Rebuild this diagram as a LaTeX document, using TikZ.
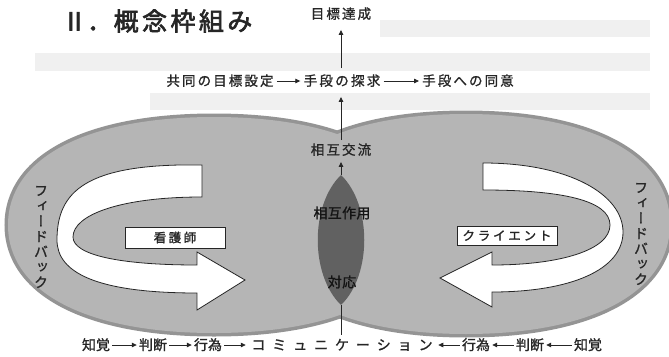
\documentclass[tikz,border=0pt]{standalone}
\usepackage{fontspec}
\usetikzlibrary{arrows.meta}
\newfontfamily\jptitle[FakeBold=2.5]{Noto Sans CJK JP}
\newfontfamily\jpk[FakeBold=1.2]{Noto Sans CJK JP}
\newfontfamily\jpv[FakeBold=1.2,RawFeature={+vert}]{Noto Sans CJK JP}
\newcommand\spc[2]{\def\spcw{#1}\spcloop#2\relax}
\def\spcloop#1{\ifx#1\relax\else\makebox[\spcw][c]{#1}\expandafter\spcloop\fi}
\colorlet{ink}{black!85}
\tikzset{
  lbl/.style={font=\jpk\fontsize{13.5}{14}\selectfont, inner sep=0pt, text=ink,
              text height=11.5pt, text depth=2pt},
  blbl/.style={font=\jpk\fontsize{14}{14}\selectfont, inner sep=0pt, text=ink,
              text height=12pt, text depth=2pt},
  lenslbl/.style={font=\jpk\fontsize{14}{14}\selectfont, inner sep=0pt, text=black!92},
  arr/.style={draw=ink, line width=0.8pt, -{Triangle[length=5pt,width=4.5pt]},
              shorten <=2pt, shorten >=2pt},
  plainline/.style={draw=ink, line width=0.8pt},
  bigarrow/.style={draw=ink, line width=0.8pt, fill=white, line join=miter},
  boxst/.style={draw=ink, line width=0.8pt, fill=white, inner sep=0pt,
                font=\jpk\fontsize{12.5}{13}\selectfont, text=ink},
  fb/.style={font=\jpv\fontsize{14}{15.3}\selectfont, align=center, inner sep=0pt, text=ink},
  blob/.style={fill=black!29},
  blobrim/.style={draw=black!42, line width=7pt},
  bleed/.style={fill=black!6}
}
\begin{document}
\begin{tikzpicture}[x=1pt,y=-1pt]
\useasboundingbox (0,0) rectangle (669,356);
\fill[white] (0,0) rectangle (669,356);
% faint bleed-through bands of the page behind
\fill[bleed] (380,20) rectangle (650,37);
\fill[bleed] (35,53) rectangle (650,71);
\fill[bleed] (150,93) rectangle (650,110);

% grey fields (rim first, then union fill)
\path[blobrim] (420,225) .. controls (420,158) and (342,117) .. (214,117)
  .. controls (86,117) and (8,158) .. (8,225)
  .. controls (8,292) and (86,333) .. (214,333)
  .. controls (342,333) and (420,292) .. (420,225) -- cycle;
\path[blobrim] (670,224) .. controls (670,156) and (592,114) .. (466,114)
  .. controls (340,114) and (262,156) .. (262,224)
  .. controls (262,292) and (340,334) .. (466,334)
  .. controls (592,334) and (670,292) .. (670,224) -- cycle;
\path[blob] (420,225) .. controls (420,158) and (342,117) .. (214,117)
  .. controls (86,117) and (8,158) .. (8,225)
  .. controls (8,292) and (86,333) .. (214,333)
  .. controls (342,333) and (420,292) .. (420,225) -- cycle;
\path[blob] (670,224) .. controls (670,156) and (592,114) .. (466,114)
  .. controls (340,114) and (262,156) .. (262,224)
  .. controls (262,292) and (340,334) .. (466,334)
  .. controls (592,334) and (670,292) .. (670,224) -- cycle;

% lens
\coordinate (lt) at (341,175);
\coordinate (lb) at (341,305);
\fill[black!62] (lt) .. controls (372,205) and (372,275) .. (lb)
  .. controls (310,275) and (310,205) .. (lt) -- cycle;
\node[lenslbl] (inter) at (342,213) {\spc{14.3pt}{相互作用}};
\node[lenslbl] (resp) at (342,282) {\spc{14.5pt}{対応}};

% big curved arrows
\draw[bigarrow] (202,165) .. controls (85,163) and (57,192) .. (57,240)
  .. controls (57,272) and (95,293) .. (197,293) -- (197,310) -- (245,280)
  -- (197,252) -- (197,265) .. controls (120,265) and (73,255) .. (73,237)
  .. controls (73,215) and (120,197) .. (202,197) -- cycle;
\draw[bigarrow] (483,163) .. controls (570,163) and (623,195) .. (623,232)
  .. controls (623,270) and (570,292) .. (492,292) -- (492,307) -- (440,278)
  -- (492,252) -- (492,265) .. controls (560,265) and (610,250) .. (610,225)
  .. controls (610,200) and (560,190) .. (483,190) -- cycle;

\node[boxst, minimum width=100pt, minimum height=21pt] (nurse) at (175,237.5) {\spc{15pt}{看護師}};
\node[boxst, minimum width=100pt, minimum height=19pt] (client) at (507,235.5) {\spc{15.3pt}{クライエント}};

\node[fb] (fbl) at (41,237) {フ\\ィ\\ー\\ド\\バ\\ッ\\ク};
\node[fb] (fbr) at (641,234) {フ\\ィ\\ー\\ド\\バ\\ッ\\ク};

% title and upper labels
\node[font=\jptitle\fontsize{25}{25}\selectfont, inner sep=0pt, text=ink] (title) at (158,21)
  {\makebox[25pt][c]{Ⅱ}\makebox[25pt][c]{．}\spc{28.4pt}{概念枠組み}};
\node[lbl] (goal) at (341,14) {\spc{15.6pt}{目標達成}};
\node[lbl] (joint) at (220,81) {\spc{15.6pt}{共同の目標設定}};
\node[lbl] (explore) at (342,81) {\spc{15.8pt}{手段の探求}};
\node[lbl] (agree) at (468,81) {\spc{15.6pt}{手段への同意}};
\node[lbl] (mutual) at (341,150) {\spc{15.6pt}{相互交流}};

\draw[arr] (joint) -- (explore);
\draw[arr] (explore) -- (agree);
\draw[arr, shorten <=6pt, shorten >=9pt] (explore.north -| goal) -- (goal.south);
\draw[arr, shorten <=3pt, shorten >=9pt] (mutual.north) -- (mutual.north |- explore.south);
\draw[arr, shorten <=0pt, shorten >=5pt] (lt) -- (mutual.south);

% bottom row
\node[blbl] (p1) at (96,345) {知覚};
\node[blbl] (j1) at (153,345) {判断};
\node[blbl] (a1) at (208,345) {行為};
\node[blbl] (comm) at (342,345) {\spc{20.9pt}{コミュニケーション}};
\node[blbl] (a2) at (476,345) {行為};
\node[blbl] (j2) at (530,345) {判断};
\node[blbl] (p2) at (588,345) {知覚};

\draw[plainline, shorten >=3pt] (lb) -- (lb |- comm.north);
\draw[arr] (p1) -- (j1);
\draw[arr] (j1) -- (a1);
\draw[arr] (a1) -- (comm);
\draw[arr] (a2) -- (comm);
\draw[arr] (j2) -- (a2);
\draw[arr] (p2) -- (j2);
\end{tikzpicture}
\end{document}
